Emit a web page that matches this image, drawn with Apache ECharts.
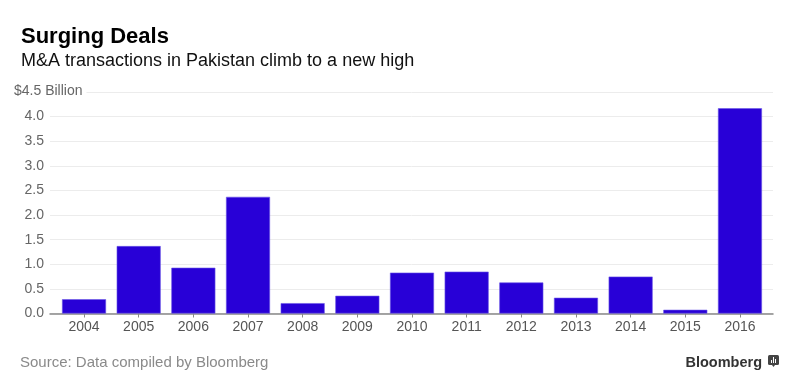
<!DOCTYPE html>
<html>
<head>
<meta charset="utf-8">
<script src="https://cdn.jsdelivr.net/npm/echarts@6/dist/echarts.min.js"></script>
<style>
html,body{margin:0;padding:0;background:#fff;}
#chart{width:800px;height:390px;}
</style>
</head>
<body>
<div id="chart"></div>
<script>
var titleText = 'Surging Deals';
var subtitleText = 'M&A transactions in Pakistan climb to a new high';
var sourceText = 'Source: Data compiled by Bloomberg';
var brandText = 'Bloomberg';
var years = ['2004','2005','2006','2007','2008','2009','2010','2011','2012','2013','2014','2015','2016'];
var dealValues = [0.29, 1.37, 0.93, 2.37, 0.21, 0.36, 0.83, 0.85, 0.63, 0.32, 0.75, 0.075, 4.17];
var yTicks = [0, 0.5, 1.0, 1.5, 2.0, 2.5, 3.0, 3.5, 4.0, 4.5];
var topTickLabel = '$4.5 Billion';

var FONT = '"Liberation Sans", Arial, Helvetica, sans-serif';
var chart = echarts.init(document.getElementById('chart'), null, {renderer: 'canvas'});
var yMin = yTicks[0], yMax = yTicks[yTicks.length - 1];
var gridTop = 92, gridBottom = 390 - 313.5;

chart.setOption({
  animation: false,
  backgroundColor: '#fff',
  title: [
    {text: titleText, left: 16, top: 21, textStyle: {fontFamily: FONT, fontSize: 22, fontWeight: 'bold', color: '#000'}},
    {text: subtitleText, left: 16, top: 47, textStyle: {fontFamily: FONT, fontSize: 18, fontWeight: 'normal', color: '#111'}},
    {text: sourceText, left: 15, top: 350, textStyle: {fontFamily: FONT, fontSize: 15, fontWeight: 'normal', color: '#8a8a8a'}},
    {text: brandText, right: 33, top: 350, textStyle: {fontFamily: FONT, fontSize: 14.5, fontWeight: 'bold', color: '#333'}}
  ],
  grid: [
    {left: 50, right: 27, top: gridTop, bottom: gridBottom},
    {left: 56.7, right: 32.7, top: gridTop, bottom: gridBottom}
  ],
  xAxis: [
    {gridIndex: 0, type: 'value', min: 0, max: 1, axisLabel: {show: false}, axisTick: {show: false}, splitLine: {show: false},
     axisLine: {show: true, onZero: false, lineStyle: {color: '#888', width: 1.5}}},
    {gridIndex: 1, type: 'category', data: years, boundaryGap: true,
     axisLine: {show: false},
     axisTick: {show: true, alignWithLabel: true, length: 4, lineStyle: {color: '#888'}},
     axisLabel: {fontFamily: FONT, fontSize: 14, color: '#555', margin: 7}}
  ],
  yAxis: [
    {gridIndex: 0, type: 'value', min: yMin, max: yMax, interval: 0.5,
     axisLine: {show: false}, axisTick: {show: false},
     axisLabel: {fontFamily: FONT, fontSize: 14, color: '#666', margin: 6,
       formatter: function (v) { return v === yMax ? '' : v.toFixed(1); }},
     splitLine: {show: true, lineStyle: {color: '#ececec', width: 1}}},
    {gridIndex: 1, type: 'value', min: yMin, max: yMax, interval: 0.5, show: false, splitLine: {show: false}}
  ],
  graphic: [
    {type: 'text', left: 14, top: 84, z: 100,
     style: {text: topTickLabel, fontFamily: FONT, fontSize: 14, fill: '#666', backgroundColor: '#fff', padding: [0, 4, 0, 0]}},
    {type: 'group', right: 21, top: 355, z: 100, children: [
      {type: 'rect', shape: {x: 0, y: 0, width: 11, height: 10, r: 1.5}, style: {fill: '#444'}},
      {type: 'rect', shape: {x: 3, y: 5, width: 1, height: 3}, style: {fill: '#fff'}},
      {type: 'rect', shape: {x: 5, y: 2, width: 1, height: 6}, style: {fill: '#fff'}},
      {type: 'rect', shape: {x: 7, y: 4, width: 1, height: 4}, style: {fill: '#fff'}},
      {type: 'polygon', shape: {points: [[4, 10], [7, 10], [5.5, 12]]}, style: {fill: '#444'}}
    ]}
  ],
  series: [{
    type: 'bar', xAxisIndex: 1, yAxisIndex: 1, data: dealValues,
    barCategoryGap: '19.5%',
    itemStyle: {color: '#2800d7', borderColor: '#6a55e6', borderWidth: 0.6}
  }]
});
</script>
</body>
</html>
